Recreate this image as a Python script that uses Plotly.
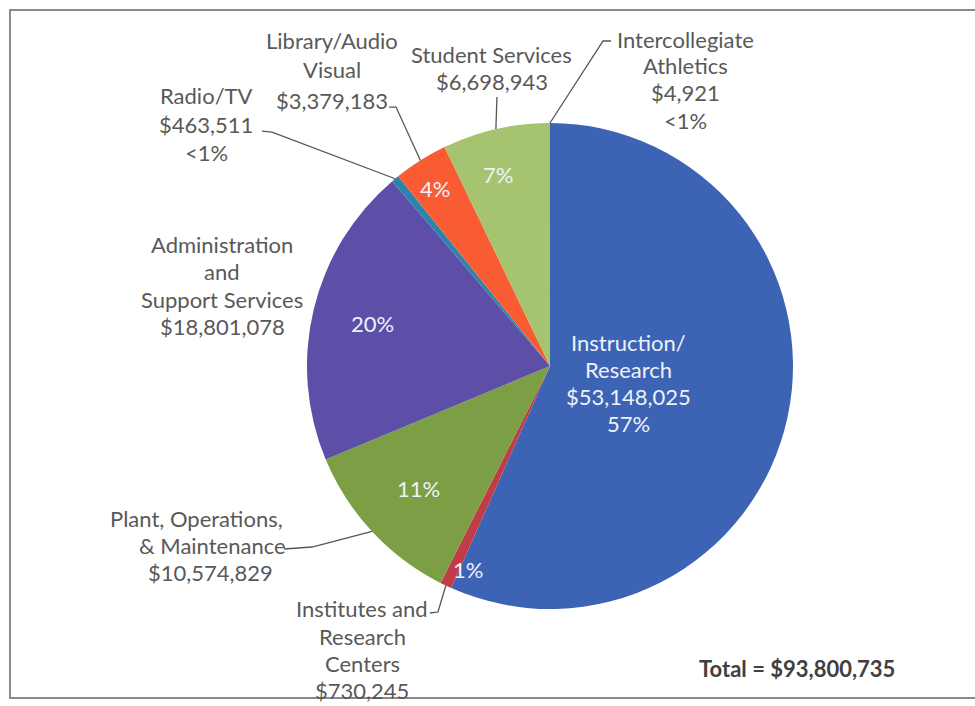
import math
import plotly.graph_objects as go

# ---- data ----
categories = ["Instruction/Research", "Institutes and Research Centers",
              "Plant, Operations, & Maintenance", "Administration and Support Services",
              "Radio/TV", "Library/Audio Visual", "Student Services", "Intercollegiate Athletics"]
values = [53148025, 730245, 10574829, 18801078, 463511, 3379183, 6698943, 4921]
colors = ["#3D63B4", "#C03C46", "#7C9F45", "#5D4FA7", "#2A84AC", "#F95B33", "#A6C46F", "#2C4D75"]
pct_labels = ["57%", "1%", "11%", "20%", "<1%", "4%", "7%", "<1%"]
total_label = "Total = $93,800,735"

W, H = 975, 706
CX, CY, R = 550, 366, 243  # pie center/radius in pixels

total = sum(values)
cum = []
acc = 0
for v in values:
    cum.append((acc / total, (acc + v / 2) / total, (acc + v) / total))
    acc += v


def pt(frac, r):
    a = 2 * math.pi * frac
    return CX + r * math.sin(a), CY - r * math.cos(a)


def px(x):
    return x / W


def py(y):
    return 1 - y / H


fig = go.Figure(go.Pie(
    labels=categories, values=values, sort=False, direction="clockwise",
    rotation=0, marker=dict(colors=colors, line=dict(width=0)),
    textinfo="none", hoverinfo="skip", showlegend=False,
    domain=dict(x=[px(CX - R), px(CX + R)], y=[py(CY + R), py(CY - R)]),
))

FONT = "Lato"
SIZE = 22
GRAY = "#595959"
annotations = []
shapes = []


def add_line(x, y, text, size=SIZE, color=GRAY, bold=False):
    if bold:
        text = "<b>" + text + "</b>"
    annotations.append(dict(x=px(x), y=py(y), xref="paper", yref="paper", text=text,
                            showarrow=False, align="center", xanchor="center",
                            yanchor="middle", font=dict(family=FONT, size=size, color=color)))


def add_block(x, ys, lines, color=GRAY):
    xs = x if isinstance(x, (list, tuple)) else [x] * len(lines)
    for xi, yi, t in zip(xs, ys, lines):
        add_line(xi, yi, t, color=color)


def money(v):
    return "${:,}".format(v)


# inside labels
INS = "#EEF2F8"
mx, my = pt(cum[0][1], 80)
add_block(mx, [my - 40, my - 13, my + 14, my + 41],
          ["Instruction/", "Research", money(values[0]), pct_labels[0]], color=INS)
for i, r, dx in [(2, 180, 0), (3, 182, 0), (5, 210, -3), (6, 196, -8)]:
    x, y = pt(cum[i][1], r)
    add_line(x + dx, y, pct_labels[i], color=INS)
x, y = pt(cum[1][2], 228)
add_line(x + 21, y, pct_labels[1], color=INS)

# outside labels
add_block(685, [39, 66, 93, 120], ["Intercollegiate", "Athletics", money(values[7]), pct_labels[7]])
add_block(492, [55, 82], ["Student Services", money(values[6])])
add_block(332, [40, 70, 100], ["Library/Audio", "Visual", money(values[5])])
add_block(206, [96, 124, 152], ["Radio/TV", money(values[4]), pct_labels[4]])
add_block(222, [245, 272, 299, 326], ["Administration", "and", "Support Services", money(values[3])])
add_block([196, 212, 210], [518, 545, 572], ["Plant, Operations,", "&amp; Maintenance", money(values[2])])
add_block(362, [608, 636, 663, 690], ["Institutes and", "Research", "Centers", money(values[1])])
annotations.append(dict(x=px(797), y=py(668), xref="paper", yref="paper",
                        text="<b>" + total_label + "</b>", showarrow=False,
                        xanchor="center", yanchor="middle",
                        font=dict(family=FONT, size=SIZE, color="#404040")))


def leader(points):
    d = "M " + " L ".join("{:.4f},{:.4f}".format(px(x), py(y)) for x, y in points)
    shapes.append(dict(type="path", xref="paper", yref="paper", path=d,
                       line=dict(color="#555555", width=1.3)))


# leader lines: start near label, end at slice edge (from data angles)
leader([(611, 41), (603, 41), pt(cum[7][1], R)])
leader([(497, 97), pt(cum[6][1], R)])
leader([(389, 107), (396, 107), pt(cum[5][1], R)])
leader([(262, 131), (272, 132), pt(cum[4][1], R)])
leader([(284, 549), (312, 547), pt(cum[2][1], R)])
leader([(430, 613), (438, 612), pt(cum[1][1], R)])

# frame
shapes.append(dict(type="rect", xref="paper", yref="paper", x0=px(10), x1=1.02,
                   y0=py(698), y1=py(10), line=dict(color="#8A8A8A", width=2)))

fig.update_layout(width=W, height=H, margin=dict(l=0, r=0, t=0, b=0),
                  paper_bgcolor="white", plot_bgcolor="white",
                  annotations=annotations, shapes=shapes)
fig.write_html("out.html", config={"displayModeBar": False},
               post_script="document.body.style.margin='0px';")
